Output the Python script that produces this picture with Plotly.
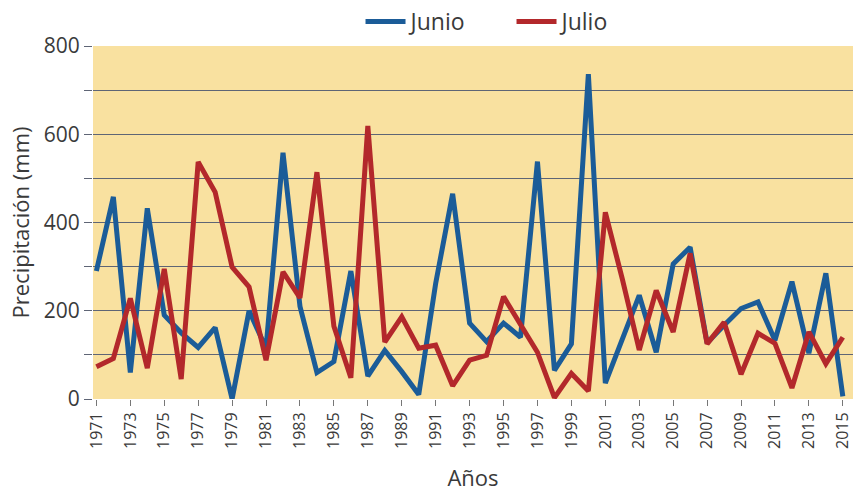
import plotly.graph_objects as go

years = list(range(1971, 2016))
junio = [290, 458, 60, 432, 190, 150, 117, 162, 0, 200,
         115, 558, 210, 60, 85, 290, 52, 110, 62, 10,
         262, 465, 172, 130, 172, 140, 538, 65, 125, 736,
         36, 132, 235, 106, 306, 344, 127, 167, 205, 220,
         133, 266, 104, 285, 6]
julio = [73, 92, 228, 70, 295, 45, 537, 469, 299, 254,
         88, 288, 229, 514, 165, 48, 619, 129, 186, 115,
         122, 30, 88, 99, 232, 167, 106, 3, 58, 18,
         423, 272, 111, 246, 152, 330, 125, 174, 56, 149,
         126, 25, 152, 80, 140]
x_ticks = list(range(1971, 2016, 2))
y_ticks = list(range(0, 801, 100))
y_labels = [str(v) if v % 200 == 0 else "" for v in y_ticks]

font_family = "'Open Sans', Lato, sans-serif"
text_color = "#3a3a3a"

fig = go.Figure()
fig.add_trace(go.Scatter(x=years, y=junio, mode="lines", name="Junio",
                         line=dict(color="#1b5c98", width=5)))
fig.add_trace(go.Scatter(x=years, y=julio, mode="lines", name="Julio",
                         line=dict(color="#b3282b", width=5)))

fig.update_layout(
    width=853, height=494,
    margin=dict(l=93, r=0, t=45, b=95),
    paper_bgcolor="white",
    plot_bgcolor="#f9e1a0",
    font=dict(family=font_family, color=text_color),
    showlegend=True,
    legend=dict(orientation="h", x=0.352, xanchor="left", y=1.07, yanchor="middle",
                font=dict(size=23, color=text_color), bgcolor="rgba(0,0,0,0)",
                entrywidth=96, entrywidthmode="pixels", itemwidth=40),
    xaxis=dict(
        range=[1970.8, 2015.6],
        tickvals=x_ticks, ticktext=[str(v) for v in x_ticks],
        tickangle=-90, tickfont=dict(size=16, color=text_color),
        ticks="outside", ticklen=6, tickcolor="#777777",
        ticklabeloverflow="allow", automargin=False,
        showgrid=False, zeroline=False, showline=False,
        title=dict(text="Años", font=dict(size=22, color=text_color), standoff=22),
    ),
    yaxis=dict(
        range=[0, 800],
        tickvals=y_ticks, ticktext=y_labels,
        tickfont=dict(size=21, color=text_color),
        ticks="outside", ticklen=8, tickcolor="#5f6575",
        showgrid=True, gridcolor="#5f6575", gridwidth=1,
        zeroline=False, showline=False, automargin=False,
        title=dict(text="Precipitación (mm)", font=dict(size=22, color=text_color), standoff=8),
    ),
)

fig.write_html("out.html", config={"displayModeBar": False},
               post_script="document.body.style.margin='0';document.body.style.overflow='hidden';")
